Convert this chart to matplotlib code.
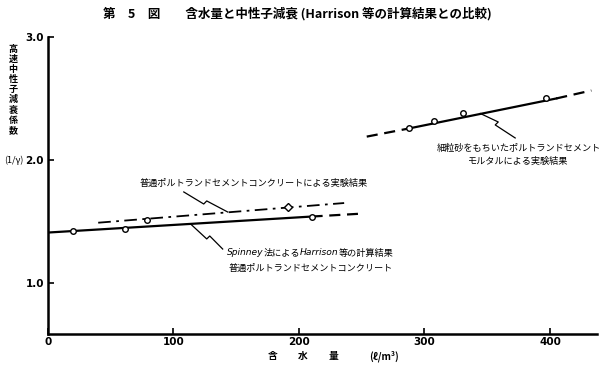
import matplotlib
matplotlib.use("Agg")
import matplotlib.pyplot as plt
from matplotlib.offsetbox import TextArea, HPacker, AnnotationBbox

plt.rcParams['font.family'] = ['Noto Sans CJK JP', 'DejaVu Sans']

# Spinney法によるHarrison等の計算結果 (普通ポルトランドセメントコンクリート)
calc_x = [0, 210]
calc_y = [1.41, 1.54]
calc_ext_x = [210, 247]
calc_ext_y = [1.54, 1.562]
calc_pts_x = [20, 61, 210]
calc_pts_y = [1.42, 1.44, 1.54]

# 普通ポルトランドセメントコンクリートによる実験結果
conc_x = [40, 236]
conc_y = [1.49, 1.65]
conc_circ_x = [79]
conc_circ_y = [1.515]
conc_dia_x = [191]
conc_dia_y = [1.62]

# 細粒砂をもちいたポルトランドセメントモルタルによる実験結果
mort_x = [287, 405]
mort_y = [2.255, 2.50]
mort_lo_x = [254, 287]
mort_lo_y = [2.19, 2.255]
mort_hi_x = [405, 433]
mort_hi_y = [2.50, 2.565]
mort_pts_x = [288, 308, 331, 397]
mort_pts_y = [2.263, 2.315, 2.384, 2.502]

xticks = [0, 100, 200, 300, 400]
yticks = [1.0, 2.0, 3.0]
yticklabels = ['1.0', '2.0', '3.0']

fig = plt.figure(figsize=(6, 3.71), dpi=100)
ax = fig.add_axes([0.08, 0.0997, 0.915, 0.8006])

lw = 1.6
mk = dict(marker='o', ms=4, mfc='white', mec='black', mew=1, ls='none', zorder=5)

ax.plot(calc_x, calc_y, color='black', lw=lw)
ax.plot(calc_ext_x, calc_ext_y, color='black', lw=lw, dashes=(5, 3))
ax.plot(calc_pts_x, calc_pts_y, **mk)

ax.plot(conc_x, conc_y, color='black', lw=1.3, dashes=(7, 3, 1.5, 3))
ax.plot(conc_circ_x, conc_circ_y, **mk)
ax.plot(conc_dia_x, conc_dia_y, marker='D', ms=4, mfc='white', mec='black',
        mew=1, ls='none', zorder=5)

ax.plot(mort_x, mort_y, color='black', lw=lw)
ax.plot(mort_lo_x, mort_lo_y, color='black', lw=lw, dashes=(5, 3))
ax.plot(mort_hi_x, mort_hi_y, color='black', lw=lw, dashes=(5, 3))
ax.plot(mort_pts_x, mort_pts_y, **mk)

# leader lines
ax.plot([108.2, 124.1, 126.5, 143.2], [1.740, 1.642, 1.667, 1.577], color='black', lw=0.9)
ax.plot([113.8, 126.5, 128.9, 139.2], [1.478, 1.358, 1.382, 1.276], color='black', lw=0.9)
ax.plot([344.5, 358.8, 356.4, 372.3], [2.378, 2.309, 2.285, 2.179], color='black', lw=0.9)

fs = 6.6
ax.text(164, 1.813, '普通ポルトランドセメントコンクリートによる実験結果',
        ha='center', va='center', fontsize=fs)

parts = [('Spinney', 'italic'), ('法による', 'normal'),
         ('Harrison', 'italic'), ('等の計算結果', 'normal')]
boxes = [TextArea(t, textprops=dict(fontsize=fs, style=s,
                                    family=['DejaVu Sans'] if s == 'italic'
                                    else ['Noto Sans CJK JP', 'DejaVu Sans']))
         for t, s in parts]
pack = HPacker(children=boxes, sep=0, pad=0, align='baseline')
ax.add_artist(AnnotationBbox(pack, (209, 1.244), frameon=False, pad=0,
                             box_alignment=(0.5, 0.5)))
ax.text(209, 1.122, '普通ポルトランドセメントコンクリート',
        ha='center', va='center', fontsize=fs)

ax.text(375, 2.098, '細粒砂をもちいたポルトランドセメント',
        ha='center', va='center', fontsize=fs)
ax.text(375, 1.992, 'モルタルによる実験結果',
        ha='center', va='center', fontsize=fs)

ax.set_xlim(0, 437.5)
ax.set_ylim(0.585, 3.0)
ax.set_xticks(xticks)
ax.set_xticklabels([str(v) for v in xticks], fontsize=7.5, fontweight='bold',
                   family='DejaVu Sans')
ax.set_yticks(yticks)
ax.set_yticklabels(yticklabels, fontsize=7.5, fontweight='bold',
                   family='DejaVu Sans')
ax.tick_params(direction='in', length=4, width=1.2, pad=3)
ax.tick_params(axis='x', pad=2)
ax.spines['top'].set_visible(False)
ax.spines['right'].set_visible(False)
for s in ('left', 'bottom'):
    ax.spines[s].set_linewidth(1.8)

fig.text(0.495, 0.962,
         '第　5　図　　含水量と中性子減衰 (Harrison 等の計算結果との比較)',
         ha='center', va='center', fontsize=9, fontweight='bold')

fig.text(0.022, 0.879, '\n'.join('高速中性子減衰係数'), ha='center', va='top',
         fontsize=6.5, fontweight='bold', linespacing=1.15)
fig.text(14 / 600, 0.569, '(1/γ)', ha='center', va='center', fontsize=6.5)

for label, px in [('含', 273), ('水', 303), ('量', 333), ('(ℓ/m³)', 384)]:
    fig.text(px / 600, 1 - 356 / 371, label, ha='center', va='center',
             fontsize=7, fontweight='bold', style='italic' if label[0] == '(' else 'normal')

fig.savefig('out.png', dpi=100)
